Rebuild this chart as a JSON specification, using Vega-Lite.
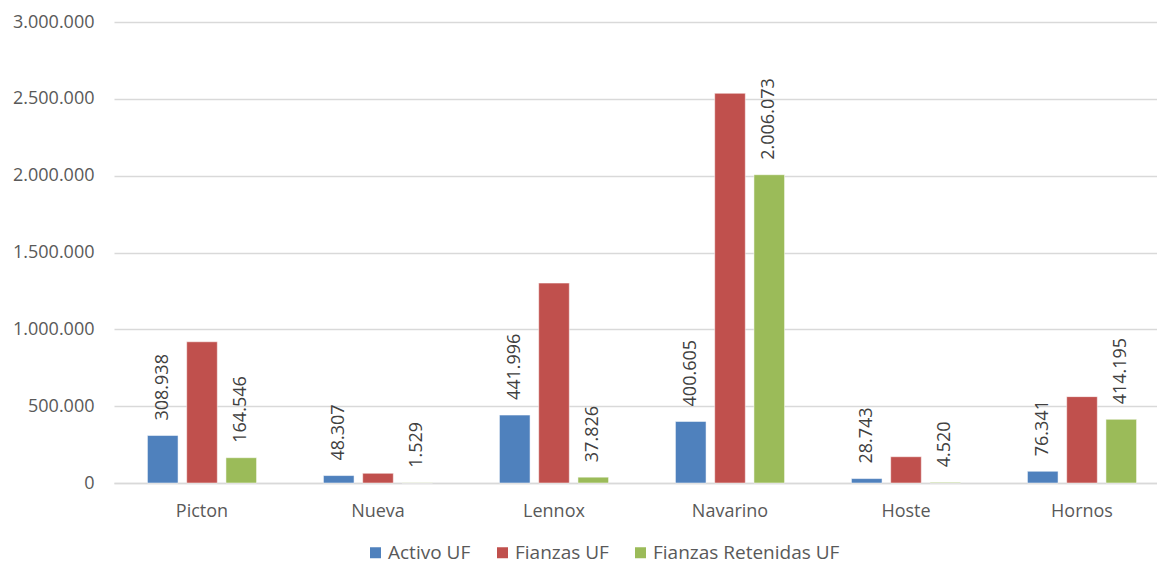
{
  "$schema": "https://vega.github.io/schema/vega-lite/v6.json",
  "width": 1043,
  "height": 461,
  "autosize": {"type": "none"},
  "padding": {"left": 114, "top": 22, "right": 0, "bottom": 85},
  "background": "white",
  "config": {
    "locale": {"number": {"decimal": ",", "thousands": ".", "grouping": [3], "currency": ["$", ""]}},
    "view": {"stroke": null},
    "font": "Open Sans",
    "text": {"font": "Open Sans"}
  },
  "data": {
    "values": [
      {"zona": "Picton", "serie": "Activo UF", "valor": 308938},
      {"zona": "Picton", "serie": "Fianzas UF", "valor": 919000},
      {"zona": "Picton", "serie": "Fianzas Retenidas UF", "valor": 164546},
      {"zona": "Nueva", "serie": "Activo UF", "valor": 48307},
      {"zona": "Nueva", "serie": "Fianzas UF", "valor": 63000},
      {"zona": "Nueva", "serie": "Fianzas Retenidas UF", "valor": 1529},
      {"zona": "Lennox", "serie": "Activo UF", "valor": 441996},
      {"zona": "Lennox", "serie": "Fianzas UF", "valor": 1301000},
      {"zona": "Lennox", "serie": "Fianzas Retenidas UF", "valor": 37826},
      {"zona": "Navarino", "serie": "Activo UF", "valor": 400605},
      {"zona": "Navarino", "serie": "Fianzas UF", "valor": 2536000},
      {"zona": "Navarino", "serie": "Fianzas Retenidas UF", "valor": 2006073},
      {"zona": "Hoste", "serie": "Activo UF", "valor": 28743},
      {"zona": "Hoste", "serie": "Fianzas UF", "valor": 171000},
      {"zona": "Hoste", "serie": "Fianzas Retenidas UF", "valor": 4520},
      {"zona": "Hornos", "serie": "Activo UF", "valor": 76341},
      {"zona": "Hornos", "serie": "Fianzas UF", "valor": 562000},
      {"zona": "Hornos", "serie": "Fianzas Retenidas UF", "valor": 414195}
    ]
  },
  "encoding": {
    "x": {
      "field": "zona", "type": "nominal", "sort": null,
      "scale": {"range": [0, 1056], "paddingInner": 0.38, "paddingOuter": 0.19},
      "axis": {
        "title": null, "labelAngle": 0, "ticks": false, "domainColor": "#D9D9D9", "domainWidth": 1.5,
        "labelFont": "Open Sans", "labelFontSize": 18, "labelColor": "#595959", "labelPadding": 19
      }
    },
    "xOffset": {
      "field": "serie", "type": "nominal", "sort": ["Activo UF", "Fianzas UF", "Fianzas Retenidas UF"],
      "scale": {"paddingInner": 0.22, "paddingOuter": 0}
    },
    "y": {
      "field": "valor", "type": "quantitative",
      "scale": {"domain": [0, 3000000], "nice": false},
      "axis": {
        "title": null, "values": [0, 500000, 1000000, 1500000, 2000000, 2500000, 3000000],
        "format": ",d", "domain": false, "ticks": false, "gridColor": "#D9D9D9", "gridWidth": 1.5,
        "labelFont": "Open Sans", "labelFontSize": 18, "labelColor": "#595959", "labelPadding": 20
      }
    }
  },
  "layer": [
    {
      "mark": {"type": "bar", "stroke": "white", "strokeWidth": 1, "strokeOpacity": 0.5},
      "encoding": {
        "color": {
          "field": "serie", "type": "nominal",
          "sort": ["Activo UF", "Fianzas UF", "Fianzas Retenidas UF"],
          "scale": {"domain": ["Activo UF", "Fianzas UF", "Fianzas Retenidas UF"], "range": ["#4F81BD", "#C0504D", "#9BBB59"]},
          "legend": {
            "title": null, "orient": "none", "direction": "horizontal", "legendX": 252, "legendY": 521,
            "symbolType": "square", "symbolSize": 121, "symbolStrokeWidth": 0, "symbolOpacity": 1,
            "labelFont": "Open Sans", "labelFontSize": 19, "labelColor": "#595959", "labelOffset": 3,
            "labelLimit": 400, "columnPadding": 22
          }
        }
      }
    },
    {
      "transform": [{"filter": "datum.serie !== 'Fianzas UF'"}],
      "mark": {"type": "text", "angle": 270, "align": "left", "baseline": "middle", "dx": 15, "fontSize": 18, "font": "Open Sans", "color": "#404040"},
      "encoding": {
        "text": {"field": "valor", "type": "quantitative", "format": ",d"}
      }
    }
  ]
}
